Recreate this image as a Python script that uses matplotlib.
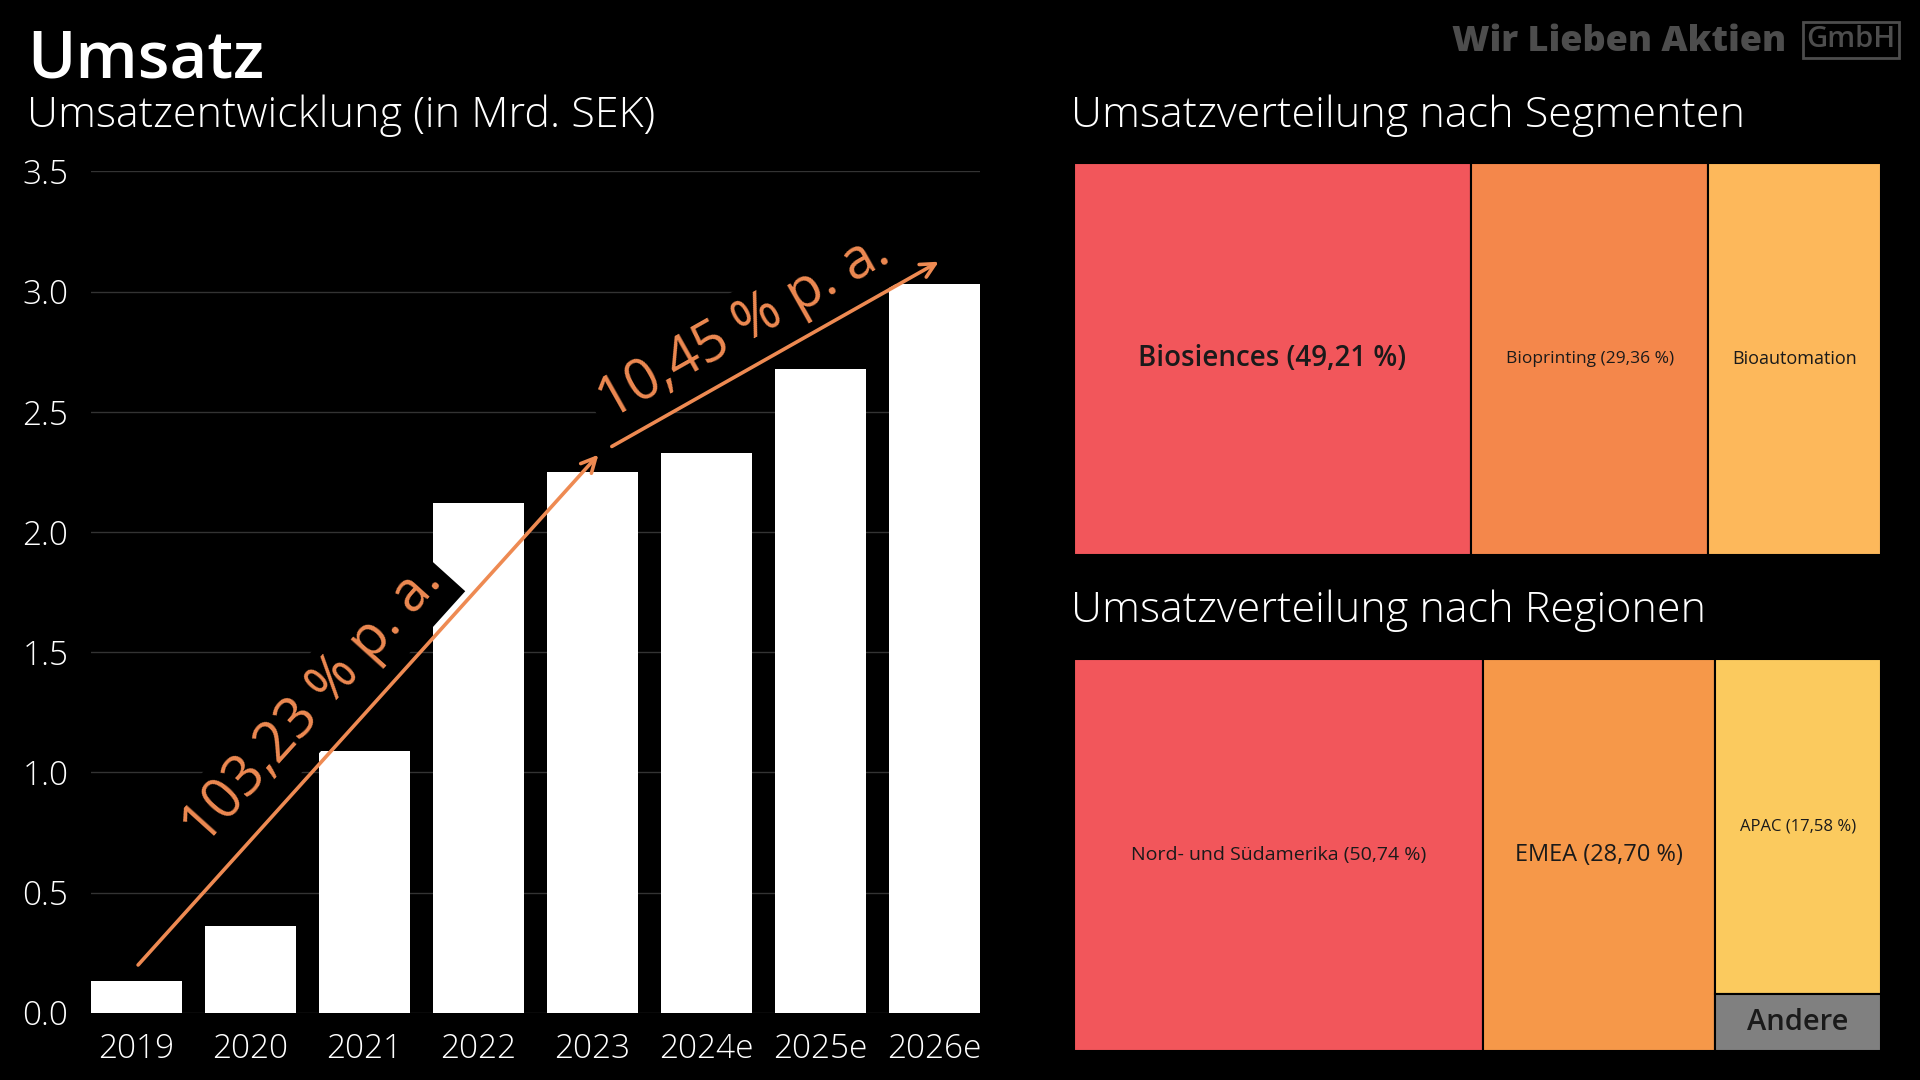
import matplotlib.pyplot as plt
import matplotlib.patches as mpatches
import numpy as np

# revenue in bn SEK
years = ["2019", "2020", "2021", "2022", "2023", "2024e", "2025e", "2026e"]
revenue = [0.13, 0.36, 1.09, 2.12, 2.25, 2.33, 2.68, 3.03]

cagr_labels = ["103,23 % p. a.", "10,45 % p. a."]

segment_names = ["Biosiences (49,21 %)", "Bioprinting (29,36 %)", "Bioautomation"]
segment_shares = [49.21, 29.36, 21.43]
segment_columns = [0, 1, 2]

region_names = ["Nord- und Südamerika (50,74 %)", "EMEA (28,70 %)", "APAC (17,58 %)", "Andere"]
region_shares = [50.74, 28.70, 17.58, 2.98]
region_columns = [0, 1, 2, 2]

FONT = ["Open Sans", "DejaVu Sans"]
ORANGE = "#EE8A52"
plt.rcParams["font.family"] = FONT


def draw_treemap(ax, names, shares, columns, colors, sizes, weights):
    # simple column layout: width by column total, items stacked inside a column
    shares = np.array(shares, dtype=float)
    columns = np.array(columns)
    total = shares.sum()
    x0 = 0.0
    for col in sorted(set(columns)):
        idx = np.where(columns == col)[0]
        col_total = shares[idx].sum()
        width = 100 * col_total / total
        y_top = 100.0
        for i in idx:
            height = 100 * shares[i] / col_total
            rect = mpatches.Rectangle((x0, y_top - height), width, height,
                                      facecolor=colors[i], edgecolor="black", linewidth=1.5)
            ax.add_patch(rect)
            ax.text(x0 + width / 2, y_top - height / 2, names[i], ha="center", va="center",
                    fontsize=sizes[i], color="#1a1a1a", fontweight=weights[i])
            y_top -= height
        x0 += width
    ax.set_xlim(0, 100)
    ax.set_ylim(0, 100)
    ax.axis("off")


fig = plt.figure(figsize=(19.2, 10.8), dpi=100, facecolor="black")

# titles
fig.text(27 / 1920, 1 - 78 / 1080, "Umsatz", color="white", fontsize=47, fontweight="semibold",
         ha="left", va="baseline")
fig.text(27 / 1920, 1 - 127 / 1080, "Umsatzentwicklung (in Mrd. SEK)", color="white", fontsize=31,
         fontweight="light", ha="left", va="baseline")
fig.text(1071 / 1920, 1 - 127 / 1080, "Umsatzverteilung nach Segmenten", color="white", fontsize=31,
         fontweight="light", ha="left", va="baseline")
fig.text(1071 / 1920, 1 - 622 / 1080, "Umsatzverteilung nach Regionen", color="white", fontsize=31,
         fontweight="light", ha="left", va="baseline")

# logo
fig.text(1786 / 1920, 1 - 51 / 1080, "Wir Lieben Aktien", color="#4d4d4d", fontsize=26,
         fontweight="heavy", ha="right", va="baseline")
fig.text(1851 / 1920, 1 - 47 / 1080, "GmbH", color="#4d4d4d", fontsize=21, ha="center",
         va="baseline", fontweight="semibold",
         bbox=dict(boxstyle="square,pad=0.12", facecolor="black", edgecolor="#4d4d4d", linewidth=2))

# bar chart
ax = fig.add_axes([0.0472, 0.0623, 0.4632, 0.779])
ax.set_facecolor("black")
x = np.arange(len(years))
ax.bar(x, revenue, width=0.8, color="white", zorder=2)
ax.set_xlim(-0.4, len(years) - 0.6)
ax.set_ylim(0, 3.5)
ax.set_yticks(np.arange(0, 3.51, 0.5))
ax.set_yticklabels([f"{v:.1f}" for v in np.arange(0, 3.51, 0.5)])
ax.set_xticks(x)
ax.set_xticklabels(years)
ax.tick_params(colors="white", labelsize=24, length=0, pad=14)
ax.tick_params(axis="y", pad=16)
for lab in ax.get_xticklabels() + ax.get_yticklabels():
    lab.set_fontweight("light")
ax.yaxis.grid(True, color="#333333", linewidth=1, zorder=0)
ax.set_axisbelow(True)
for s in ax.spines.values():
    s.set_visible(False)

# growth arrows
arrows = [((0.0, revenue[0] + 0.06), (4.07, revenue[4] + 0.08)),
          ((4.15, revenue[4] + 0.10), (7.06, revenue[7] + 0.10))]
label_pos = [(1.55, 1.28), (5.33, 2.85)]
for (start, end), label, pos in zip(arrows, cagr_labels, label_pos):
    ax.annotate("", xy=end, xytext=start,
                arrowprops=dict(arrowstyle="->", color=ORANGE, lw=2.6, mutation_scale=26),
                zorder=5)
    p0 = ax.transData.transform(start)
    p1 = ax.transData.transform(end)
    angle = np.degrees(np.arctan2(p1[1] - p0[1], p1[0] - p0[0]))
    ax.text(pos[0], pos[1], label, color=ORANGE, fontsize=40, rotation=angle,
            rotation_mode="anchor", ha="center", va="center", zorder=4,
            bbox=dict(boxstyle="square,pad=0.15", facecolor="black", edgecolor="none"))

# treemaps
ax_seg = fig.add_axes([1074 / 1920, 1 - 555 / 1080, 807 / 1920, 392 / 1080])
draw_treemap(ax_seg, segment_names, segment_shares, segment_columns,
             ["#F2565B", "#F4874B", "#FDB85B"], [20, 12.5, 13],
             ["semibold", "normal", "normal"])

ax_reg = fig.add_axes([1074 / 1920, 1 - 1051 / 1080, 807 / 1920, 392 / 1080])
draw_treemap(ax_reg, region_names, region_shares, region_columns,
             ["#F2565B", "#F69849", "#FBCA5E", "#808080"], [14, 17, 12, 21],
             ["normal", "normal", "normal", "semibold"])

fig.savefig("out.png", dpi=100, facecolor="black")
